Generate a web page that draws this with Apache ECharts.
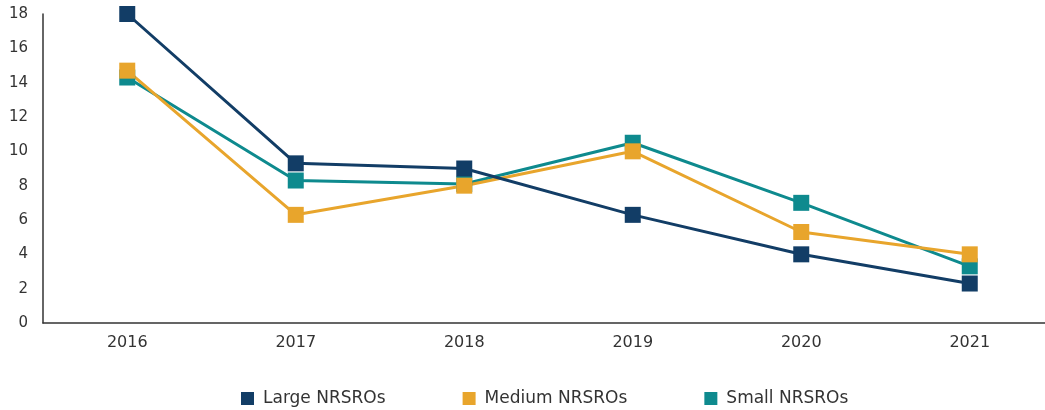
<!DOCTYPE html>
<html>
<head>
<meta charset="utf-8">
<script src="https://cdn.jsdelivr.net/npm/echarts@6/dist/echarts.min.js"></script>
<style>
  html, body { margin: 0; padding: 0; background: #fff; }
  #chart { width: 1045px; height: 410px; }
</style>
</head>
<body>
<div id="chart"></div>
<script>
var years = ['2016', '2017', '2018', '2019', '2020', '2021'];
var largeVals = [18.0, 9.3, 9.0, 6.3, 4.0, 2.3];
var mediumVals = [14.7, 6.3, 8.0, 10.0, 5.3, 4.0];
var smallVals = [14.3, 8.3, 8.1, 10.5, 7.0, 3.3];

var chart = echarts.init(document.getElementById('chart'));

var mkSeries = function (name, data, color) {
    return {
        name: name,
        type: 'line',
        data: data,
        symbol: 'rect',
        symbolSize: 16,
        showAllSymbol: true,
        lineStyle: {color: color, width: 3},
        itemStyle: {color: color},
        emphasis: {disabled: true}
    };
};

chart.setOption({
    animation: false,
    textStyle: {fontFamily: '"DejaVu Sans", sans-serif'},
    // plot runs past the right edge, like the original
    grid: {left: 43, width: 1011, top: 14, bottom: 87, outerBoundsMode: 'none'},
    legend: {
        top: 390,
        left: 241,
        padding: 0,
        icon: 'rect',
        itemWidth: 13,
        itemHeight: 13,
        itemGap: 77,
        textStyle: {fontSize: 17, color: '#333', padding: [0, 0, 0, 4]},
        data: ['Large NRSROs', 'Medium NRSROs', 'Small NRSROs']
    },
    xAxis: {
        type: 'category',
        data: years,
        boundaryGap: true,
        axisLine: {lineStyle: {color: '#333', width: 1.5}},
        axisTick: {show: false},
        axisLabel: {fontSize: 16, color: '#333', margin: 12}
    },
    yAxis: {
        type: 'value',
        min: 0,
        max: 18,
        interval: 2,
        splitLine: {show: false},
        axisLine: {show: true, lineStyle: {color: '#333', width: 1.5}},
        axisTick: {show: false},
        axisLabel: {fontSize: 15, color: '#333', margin: 15}
    },
    series: [
        mkSeries('Small NRSROs', smallVals, '#0e8a8e'),
        mkSeries('Medium NRSROs', mediumVals, '#e8a52c'),
        mkSeries('Large NRSROs', largeVals, '#123d66')
    ]
});
</script>
</body>
</html>
